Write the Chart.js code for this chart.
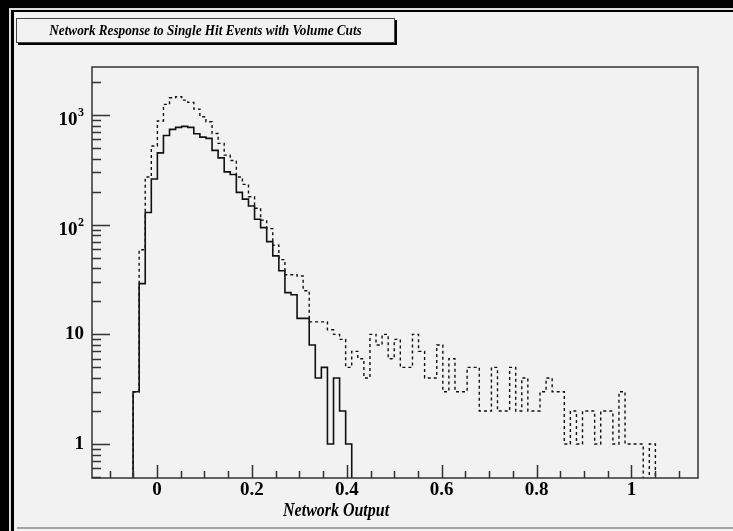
<!DOCTYPE html>
<html>
<head>
<meta charset="utf-8">
<script src="https://cdn.jsdelivr.net/npm/chart.js@4.4.0/dist/chart.umd.min.js"></script>
<style>
  html, body { margin: 0; padding: 0; background: #000; overflow: hidden; width: 733px; height: 531px; }
  .abs { position: absolute; }
  #rim { left: 9px; top: 8px; right: 0; bottom: 0; background: #dcdcdc; }
  #pad { left: 11px; top: 10px; right: 0; bottom: 0; background: #f2f2f2; border-left: 3px solid #000; border-top: 2px solid #000; }
  #padline { left: 17px; top: 527px; right: 0; height: 2px; background: #a4a4a4; }
  #wrap { left: 0; top: 0; width: 733px; height: 531px; }
  #title { left: 16px; top: 18px; width: 377px; height: 23px; border: 1px solid #444; box-shadow: 2px 2px 0 #000;
           background: #f2f2f2; font: italic bold 15px "Liberation Serif", serif; line-height: 23px; text-align: center; color: #000; }
  #xtitle { left: 236px; top: 499px; width: 200px; font: italic bold 19px "Liberation Serif", serif; line-height: 22px; text-align: center; color: #000; }
  .narrow { display: inline-block; white-space: nowrap; }
  #title .narrow { transform: scaleX(0.88); }
  #xtitle .narrow { transform: scaleX(0.84); }
</style>
</head>
<body>
<div id="rim" class="abs"></div>
<div id="pad" class="abs"></div>
<div id="padline" class="abs"></div>
<div id="wrap" class="abs"><canvas id="myChart" width="733" height="531"></canvas></div>
<div id="title" class="abs"><span class="narrow">Network Response to Single Hit Events with Volume Cuts</span></div>
<div id="xtitle" class="abs"><span class="narrow">Network Output</span></div>
<script>
// histogram binning: 0.0128 wide bins, first filled bin starts at -0.0504
const binStart = -0.0504;
const binWidth = 0.0128;

// counts per bin (solid = with volume cuts, dashed = without)
const solidCounts = [
  3, 29, 129, 261, 452, 651, 739, 771, 788, 771,
  674, 629, 612, 476, 407, 303, 287, 197, 171, 148,
  112, 94, 70, 52, 38, 24, 23, 14, 14, 8,
  4, 5, 1, 4, 2, 1
];
const dashedCounts = [
  3, 59, 272, 522, 883, 1249, 1436, 1466, 1367, 1303,
  1132, 963, 867, 679, 551, 431, 385, 272, 233, 180,
  141, 110, 92, 65, 48, 35, 35, 34, 25, 13,
  13, 13, 11, 10, 9, 5, 7, 6, 4, 10,
  8, 10, 6, 9, 5, 5, 10, 7, 4, 4,
  8, 3, 6, 3, 3, 5, 5, 2, 2, 5,
  2, 2, 5, 2, 4, 2, 2, 3, 4, 3,
  3, 1, 2, 1, 2, 2, 1, 2, 2, 1,
  3, 1, 1, 1, 0, 1
];

// axis ticks
const xMajorTicks = [0, 0.2, 0.4, 0.6, 0.8, 1];
const xTickLabels = ["0", "0.2", "0.4", "0.6", "0.8", "1"];
const yMajorTicks = [1, 10, 100, 1000];
const yLabelBase = ["1", "10", "10", "10"];
const yLabelExp = ["", "", "2", "3"];

const xMin = -0.137, xMax = 1.1402;
const yMin = 0.49, yMax = 2740;
const floorValue = 0.1; // empty bins drop below the axis

function histPoints(counts) {
  let pts = [{ x: binStart, y: floorValue }];
  counts.forEach((c, i) => {
    pts.push({ x: binStart + i * binWidth, y: c > 0 ? c : floorValue });
  });
  pts.push({ x: binStart + counts.length * binWidth, y: floorValue });
  return pts;
}

const serif = "'Liberation Serif', serif";

const axisDecor = {
  id: "axisDecor",
  afterDraw(chart) {
    const ctx = chart.ctx;
    const a = chart.chartArea;
    const xs = chart.scales.x;
    const ys = chart.scales.y;
    ctx.save();
    ctx.strokeStyle = "#333";
    ctx.lineWidth = 1.5;
    ctx.strokeRect(a.left, a.top, a.right - a.left, a.bottom - a.top);

    ctx.beginPath();
    // x ticks every 0.05, long ones on the labelled values
    for (let k = -2; k <= 22; k++) {
      let v = k * 0.05;
      if (v < xMin || v > xMax) continue;
      let px = Math.round(xs.getPixelForValue(v)) + 0.5;
      let len = k % 4 === 0 ? 13 : 7;
      ctx.moveTo(px, a.bottom);
      ctx.lineTo(px, a.bottom - len);
    }
    // y ticks at 1..9 x 10^n
    for (let d = -1; d <= 3; d++) {
      for (let m = 1; m <= 9; m++) {
        let v = m * Math.pow(10, d);
        if (v < yMin || v > yMax) continue;
        let py = Math.round(ys.getPixelForValue(v)) + 0.5;
        let len = m === 1 ? 18 : 9;
        ctx.moveTo(a.left, py);
        ctx.lineTo(a.left + len, py);
      }
    }
    ctx.stroke();

    // y labels with superscript exponents
    ctx.fillStyle = "#000";
    ctx.textAlign = "right";
    ctx.textBaseline = "middle";
    yMajorTicks.forEach((v, i) => {
      let py = ys.getPixelForValue(v);
      let right = a.left - 8;
      if (yLabelExp[i]) {
        ctx.font = "bold 12px " + serif;
        let w = ctx.measureText(yLabelExp[i]).width;
        ctx.fillText(yLabelExp[i], right, py - 2);
        ctx.font = "bold 19px " + serif;
        ctx.fillText(yLabelBase[i], right - w - 0.5, py + 5);
      } else {
        ctx.font = "bold 19px " + serif;
        ctx.fillText(yLabelBase[i], right, py);
      }
    });
    ctx.restore();
  }
};

const ctx = document.getElementById("myChart").getContext("2d");

const myChart = new Chart(ctx, {
  type: "line",
  data: {
    datasets: [
      {
        label: "With volume cuts",
        data: histPoints(solidCounts),
        borderColor: "#111",
        borderWidth: 1.6,
        stepped: true,
        pointRadius: 0,
        fill: false,
      },
      {
        label: "No cuts",
        data: histPoints(dashedCounts),
        borderColor: "#111",
        borderWidth: 1.4,
        borderDash: [3, 3],
        stepped: true,
        pointRadius: 0,
        fill: false,
      },
    ],
  },
  options: {
    responsive: false,
    animation: false,
    parsing: false,
    layout: { padding: { top: 67, right: 35, left: 0, bottom: 0 } },
    plugins: { legend: { display: false }, tooltip: { enabled: false } },
    scales: {
      x: {
        type: "linear",
        min: xMin,
        max: xMax,
        grid: { display: false, drawTicks: false },
        border: { display: false },
        afterBuildTicks: (scale) => {
          scale.ticks = xMajorTicks.map((v) => ({ value: v }));
        },
        afterFit: (scale) => {
          scale.height = 53;
        },
        ticks: {
          autoSkip: false,
          maxRotation: 0,
          padding: 1,
          color: "#000",
          font: { family: serif, size: 19, weight: "bold" },
          callback: (v, i) => xTickLabels[i],
        },
      },
      y: {
        type: "logarithmic",
        min: yMin,
        max: yMax,
        grid: { display: false, drawTicks: false },
        border: { display: false },
        ticks: { display: false },
        afterFit: (scale) => {
          scale.width = 92;
        },
      },
    },
  },
  plugins: [axisDecor],
});
</script>
</body>
</html>
